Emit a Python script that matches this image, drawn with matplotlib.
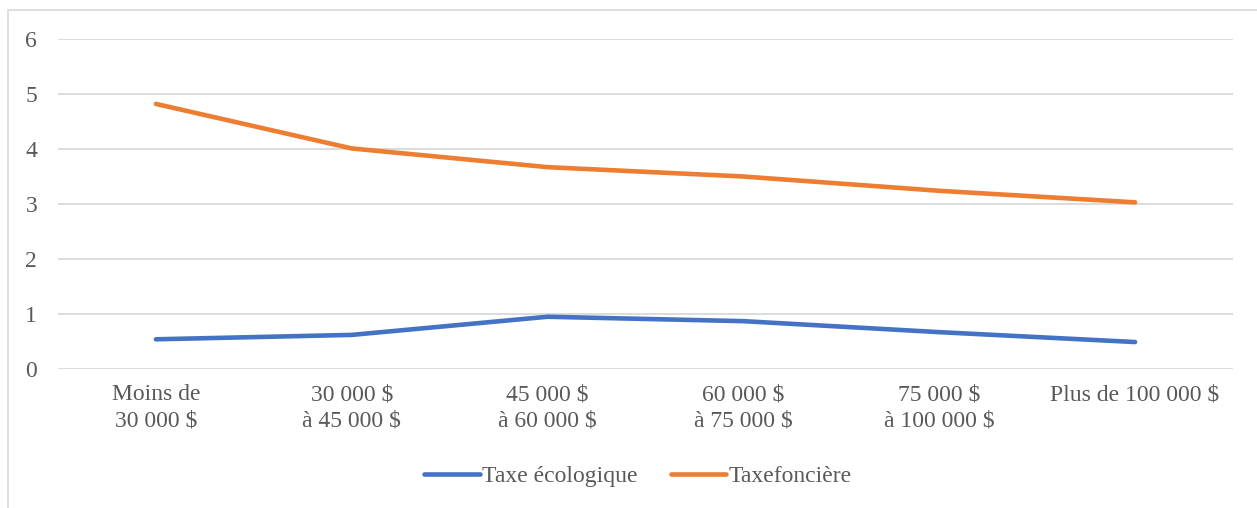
import matplotlib.pyplot as plt
from matplotlib.patches import Rectangle

categories = ["Moins de\n30 000 $", "30 000 $\nà 45 000 $", "45 000 $\nà 60 000 $",
              "60 000 $\nà 75 000 $", "75 000 $\nà 100 000 $", "Plus de 100 000 $"]
taxe_ecologique = [0.54, 0.62, 0.95, 0.87, 0.67, 0.49]
taxe_fonciere = [4.82, 4.01, 3.67, 3.50, 3.24, 3.03]
yticks = [0, 1, 2, 3, 4, 5, 6]

plt.rcParams['font.family'] = ['Liberation Serif', 'DejaVu Serif']
text_color = '#595959'

fig = plt.figure(figsize=(12.57, 5.08), dpi=100)
ax = fig.add_axes([58 / 1257, 1 - 369 / 508, (1233 - 58) / 1257, 330 / 508])

# chart frame (cropped at the right and bottom)
fig.patches.append(Rectangle((8 / 1257, -0.1), 1.2, 1 - 10 / 508 + 0.1,
                             transform=fig.transFigure, fill=False,
                             edgecolor='#d9d9d9', linewidth=1.2))

x = list(range(len(categories)))
ax.plot(x, taxe_ecologique, color='#4472C4', linewidth=3.3,
        solid_capstyle='round', label='Taxe écologique')
ax.plot(x, taxe_fonciere, color='#ED7D31', linewidth=3.3,
        solid_capstyle='round', label='Taxefoncière')

ax.set_xlim(-0.5, len(categories) - 0.5)
ax.set_ylim(0, 6)
ax.set_yticks(yticks)
ax.set_xticks(x)
ax.set_xticklabels(categories, linespacing=1.35)
ax.grid(axis='y', color='#d9d9d9', linewidth=1.3)
ax.set_axisbelow(True)
for s in ax.spines.values():
    s.set_visible(False)
ax.tick_params(length=0, labelsize=17, colors=text_color)
ax.tick_params(axis='x', pad=11)
ax.tick_params(axis='y', pad=15)

fig.legend(loc='center', bbox_to_anchor=(638 / 1257, 1 - 476 / 508), ncol=2,
           frameon=False, fontsize=17, labelcolor=text_color,
           handlelength=2.35, handletextpad=0.1, columnspacing=1.4)

fig.savefig('out.png', dpi=100)
